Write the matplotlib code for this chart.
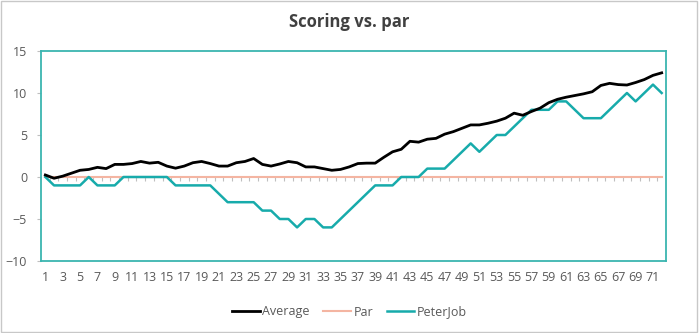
import numpy as np
import matplotlib.pyplot as plt
from matplotlib.patches import Rectangle

plt.rcParams['font.family'] = ['Open Sans', 'DejaVu Sans']

holes = list(range(1, 73))
tick_labels = [str(h) if h % 2 == 1 else '' for h in holes]

average = [0.24, -0.15, 0.1, 0.45, 0.8, 0.9, 1.15, 1.0, 1.5, 1.5,
           1.6, 1.85, 1.65, 1.75, 1.3, 1.05, 1.3, 1.7, 1.85, 1.6,
           1.3, 1.3, 1.7, 1.85, 2.2, 1.5, 1.3, 1.55, 1.85, 1.7,
           1.2, 1.2, 1.0, 0.8, 0.9, 1.2, 1.6, 1.65, 1.65, 2.35,
           3.0, 3.3, 4.25, 4.15, 4.5, 4.6, 5.1, 5.4, 5.8, 6.2,
           6.2, 6.4, 6.65, 7.0, 7.6, 7.35, 7.8, 8.2, 8.85, 9.25,
           9.5, 9.7, 9.9, 10.15, 10.9, 11.15, 11.0, 10.95, 11.25, 11.6,
           12.1, 12.4]
par = [0] * 72
peterjob = [0, -1, -1, -1, -1, 0, -1, -1, -1, 0,
            0, 0, 0, 0, 0, -1, -1, -1, -1, -1,
            -2, -3, -3, -3, -3, -4, -4, -5, -5, -6,
            -5, -5, -6, -6, -5, -4, -3, -2, -1, -1,
            -1, 0, 0, 0, 1, 1, 1, 2, 3, 4,
            3, 4, 5, 5, 6, 7, 8, 8, 8, 9,
            9, 8, 7, 7, 7, 8, 9, 10, 9, 10,
            11, 10]

teal = '#17abab'
grey_text = '#595959'

fig = plt.figure(figsize=(6.99, 3.33), dpi=100)
fig.patches.append(Rectangle((0.001, 0.004), 0.996, 0.992, transform=fig.transFigure,
                             fill=False, edgecolor='#c8c8c8', linewidth=1))
ax = fig.add_axes([41 / 699, 1 - 261 / 333, 625 / 699, 210 / 333])

x = np.array(holes)
ax.plot(x, par, color='#f4b5a2', linewidth=1.5, label='Par', zorder=2)
ax.plot(x, average, color='black', linewidth=2, label='Average', zorder=4)
ax.plot(x, peterjob, color=teal, linewidth=1.8, label='PeterJob', zorder=3)

# category tick marks on the zero line
bounds = x[:-1] + 0.5
ax.vlines(bounds, -0.5, 0, color='#bfbfbf', linewidth=0.8, zorder=1)

ax.set_xlim(0.5, 72.5)
ax.set_ylim(-10, 15)
ax.set_yticks([-10, -5, 0, 5, 10, 15])
ax.set_xticks(x)
ax.set_xticklabels(tick_labels)
ax.tick_params(axis='x', length=0, pad=7, labelsize=9, labelcolor=grey_text)
ax.tick_params(axis='y', length=3, width=0.8, color='#bfbfbf', pad=7,
               labelsize=9, labelcolor=grey_text)
for s in ax.spines.values():
    s.set_color('#3ab5b0')
    s.set_linewidth(1.3)

fig.text(0.5, 1 - 22 / 333, 'Scoring vs. par', ha='center', va='center',
         fontsize=12, fontweight='bold', color='#404040')

handles, labels = ax.get_legend_handles_labels()
order = [1, 0, 2]
fig.legend([handles[i] for i in order], [labels[i] for i in order],
           loc='center', bbox_to_anchor=(0.5, 1 - 312 / 333), ncol=3,
           frameon=False, fontsize=9, handlelength=2.2, handletextpad=0.2,
           columnspacing=1.1, labelcolor=grey_text)

fig.savefig('out.png', dpi=100)
